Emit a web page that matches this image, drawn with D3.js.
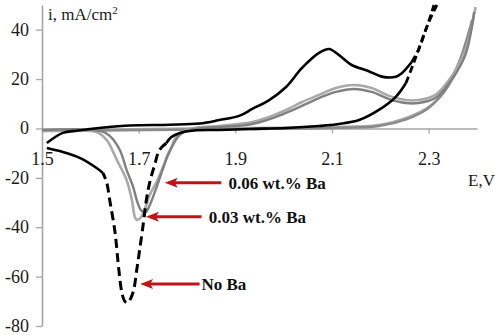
<!DOCTYPE html>
<html>
<head>
<meta charset="utf-8">
<script src="https://cdn.jsdelivr.net/npm/d3@7"></script>
<style>
  body { margin: 0; background: #fff; }
  #chart { width: 501px; height: 335px; }
</style>
</head>
<body>
<div id="chart"></div>
<script>
// tick values
const xTicks = [1.5, 1.7, 1.9, 2.1, 2.3]
const yTicks = [-80, -60, -40, -20, 0, 20, 40]

// No Ba (black) -- [E, i], in scan order
const noBaForward = [[1.510,-5.9],[1.543,-1.8],[1.572,-0.9],[1.599,-0.2],[1.681,1.2],[1.764,1.5],[1.826,2.0],[1.867,3.4],[1.908,5.1],[1.935,7.9],[1.970,11.5],[2.005,16.8],[2.038,24.5],[2.073,30.6],[2.094,32.2],[2.114,29.8],[2.141,25.7],[2.176,23.2],[2.203,21.0],[2.232,20.9],[2.244,22.3],[2.265,26.9]]
const noBaForwardTop = [[2.265,26.9],[2.279,31.8],[2.294,39.9],[2.306,46.8],[2.311,50]]
const noBaReverseTop = [[2.317,50],[2.300,43],[2.286,35.8],[2.269,26.5],[2.253,18.4]]
const noBaReverse = [[2.253,18.4],[2.232,12.8],[2.197,7.5],[2.156,3.4],[2.114,1.8],[2.073,1.0],[2.005,0.2],[1.929,-0.2],[1.867,-0.6],[1.815,-0.8],[1.785,-1.8],[1.767,-3.6],[1.757,-6]]
const noBaCathodic = [[1.757,-6],[1.743,-8.7],[1.733,-14.8],[1.723,-21.7],[1.716,-28.9],[1.710,-37.9],[1.702,-49.2],[1.696,-57.3],[1.688,-66.6],[1.677,-70.6],[1.671,-69.9],[1.665,-66.2],[1.659,-57.3],[1.651,-41.9],[1.640,-28.9],[1.634,-22],[1.626,-18]]
const noBaTail = [[1.626,-18],[1.613,-16],[1.578,-11.9],[1.543,-9.5],[1.510,-7.9]]

// 0.03 wt.% Ba (light grey)
const ba03Scan = [[1.500,-1.0],[1.558,-1.0],[1.613,-1.4],[1.634,-4.7],[1.655,-12.8],[1.675,-20.9],[1.686,-29],[1.692,-35.8],[1.696,-37],[1.704,-36.2],[1.712,-33],[1.723,-26.9],[1.739,-20.9],[1.752,-14.8],[1.760,-10.7],[1.768,-7.5],[1.778,-3.4],[1.799,-0.6],[1.832,0.6],[1.867,1.0],[1.935,2.6],[1.970,4.7],[2.005,7.5],[2.038,10.7],[2.073,13.6],[2.108,16.4],[2.145,17.6],[2.182,16.4],[2.218,13.2],[2.253,11.5],[2.279,11.5],[2.314,13.6],[2.347,20.9],[2.376,31.8],[2.397,49.2]]
const ba03Return = [[2.393,45.1],[2.368,27.7],[2.335,15.6],[2.300,8.7],[2.259,4.7],[2.197,1.4],[2.094,0.6],[1.929,0.2],[1.826,0],[1.723,-0.2],[1.620,-0.6],[1.500,-1.0]]

// 0.06 wt.% Ba (dark grey)
const ba06Scan = [[1.500,-0.6],[1.620,-1.0],[1.640,-3.0],[1.661,-8.7],[1.675,-16.8],[1.688,-23.3],[1.698,-30.2],[1.706,-33.4],[1.715,-33.8],[1.723,-31],[1.735,-24.9],[1.748,-17.6],[1.760,-11.1],[1.773,-5.9],[1.785,-2.6],[1.805,-0.6],[1.832,0.2],[1.935,1.8],[2.005,6.3],[2.073,12.3],[2.108,14.8],[2.145,16.0],[2.182,14.8],[2.218,11.9],[2.253,10.3],[2.279,10.3],[2.314,12.3],[2.347,19.6],[2.376,29.8],[2.394,47.2]]
const ba06Return = [[2.390,44],[2.363,27],[2.332,14.8],[2.297,7.9],[2.255,3.8],[2.197,1.0],[2.094,0.2],[1.929,-0.2],[1.826,-0.4],[1.620,-0.8],[1.500,-0.8]]

// annotations: label, arrow tip [E, i], arrow tail E, label E
const labels = ["0.06 wt.% Ba", "0.03 wt.% Ba", "No Ba"]
const arrowTips = [[1.754,-22], [1.715,-35.8], [1.703,-63]]
const arrowTails = [1.871, 1.830, 1.826]
const labelStarts = [1.886, 1.845, 1.830]

const width = 501
const height = 335
const serif = "Liberation Serif"
const svg = d3.select("#chart").append("svg")
  .attr("width", width)
  .attr("height", height)
  .attr("font-family", serif)

const x = d3.scaleLinear().domain([1.5, 2.4]).range([42, 477])
const y = d3.scaleLinear().domain([-80, 50]).range([326, 5])

const axisColor = "#a6a6a6"

// axes
const gy = svg.append("g")
  .attr("transform", `translate(${x(1.5)},0)`)
  .call(d3.axisLeft(y).tickValues(yTicks).tickSize(6).tickSizeOuter(0).tickPadding(7)
    .tickFormat(d => String(d)))
const gx = svg.append("g")
  .attr("transform", `translate(0,${y(0)})`)
  .call(d3.axisBottom(x).tickValues(xTicks).tickSize(5).tickSizeOuter(0).tickPadding(19)
    .tickFormat(d3.format(".1f")))

for (const g of [gx, gy]) {
  g.attr("font-family", serif).attr("font-size", 18)
  g.select(".domain").attr("stroke", axisColor).attr("stroke-width", 1.6)
  g.selectAll(".tick line").attr("stroke", axisColor).attr("stroke-width", 1.3)
  g.selectAll(".tick text").attr("fill", "#1a1a1a").attr("font-family", serif)
}
gy.selectAll(".tick text").attr("dy", "0.3em")

// axis titles
const yTitle = svg.append("text").attr("x", 48).attr("y", 20)
  .attr("fill", "#1a1a1a").attr("font-size", 17).attr("font-family", serif)
yTitle.append("tspan").text("i, mA/cm")
yTitle.append("tspan").text("2").attr("dy", -6).attr("font-size", 11)

svg.append("text").attr("x", 468).attr("y", 186)
  .attr("fill", "#1a1a1a").attr("font-size", 17).attr("font-family", serif)
  .text("E,V")

// curves
const line = d3.line()
  .x(d => x(d[0]))
  .y(d => y(d[1]))
  .curve(d3.curveCatmullRom.alpha(0.5))

function draw(data, color, w, dash) {
  svg.append("path")
    .datum(data)
    .attr("d", line)
    .attr("fill", "none")
    .attr("stroke", color)
    .attr("stroke-width", w)
    .attr("stroke-linejoin", "round")
    .attr("stroke-dasharray", dash || null)
}

draw(ba03Return, "#a9a9a9", 2.6)
draw(ba06Return, "#8a8a8a", 2.4)
draw(ba03Scan, "#a9a9a9", 2.6)
draw(ba06Scan, "#808080", 2.4)

draw(noBaForward, "#000", 2.6)
draw(noBaReverse, "#000", 2.6)
draw(noBaTail, "#000", 2.6)
draw(noBaForwardTop, "#000", 2.8, "7,4")
draw(noBaReverseTop, "#000", 2.8, "7,4")
draw(noBaCathodic, "#000", 3, "9,5")

// red arrows + labels
const red = "#c0141a"
labels.forEach((lab, k) => {
  const tx = x(arrowTips[k][0])
  const ty = y(arrowTips[k][1])
  const g = svg.append("g")
  g.append("line")
    .attr("x1", tx + 8).attr("y1", ty)
    .attr("x2", x(arrowTails[k])).attr("y2", ty)
    .attr("stroke", red).attr("stroke-width", 3)
  g.append("path")
    .attr("d", `M${tx},${ty} L${tx + 13},${ty - 5} L${tx + 10},${ty} L${tx + 13},${ty + 5} Z`)
    .attr("fill", red)
  g.append("text")
    .attr("x", x(labelStarts[k]))
    .attr("y", ty + 6)
    .attr("fill", "#111")
    .attr("font-size", 17)
    .attr("font-weight", "bold")
    .attr("font-family", serif)
    .text(lab)
})
</script>
</body>
</html>
